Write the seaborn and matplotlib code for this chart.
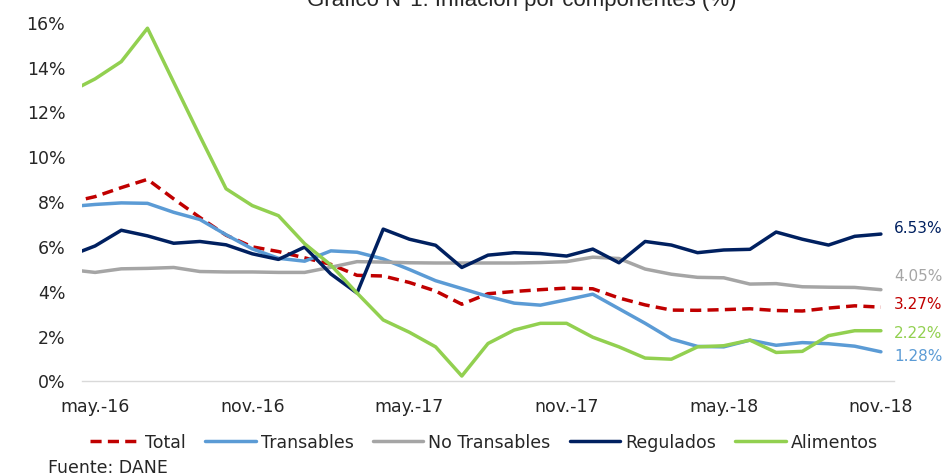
import numpy as np
import pandas as pd
import matplotlib
matplotlib.use("Agg")
import matplotlib.pyplot as plt
import seaborn as sns

# meses: abr.-16 ... nov.-18 (el primero queda recortado por el eje)
meses = pd.period_range("2016-04", "2018-11", freq="M")
etiquetas_x = ["may.-16", "nov.-16", "may.-17", "nov.-17", "may.-18", "nov.-18"]
pos_etiquetas = [0, 6, 12, 18, 24, 30]

total = [7.93, 8.20, 8.60, 8.97, 8.10, 7.27, 6.48, 5.96, 5.75,
         5.47, 5.18, 4.69, 4.66, 4.37, 3.99, 3.40, 3.87, 3.97, 4.05, 4.12, 4.09,
         3.68, 3.37, 3.14, 3.13, 3.16, 3.20, 3.12, 3.10, 3.23, 3.33, 3.27]
transables = [7.75, 7.85, 7.92, 7.90, 7.50, 7.18, 6.50, 5.87, 5.45,
              5.32, 5.78, 5.72, 5.42, 4.95, 4.45, 4.10, 3.75, 3.45, 3.36, 3.60, 3.85,
              3.20, 2.55, 1.85, 1.52, 1.50, 1.80, 1.57, 1.69, 1.64, 1.53, 1.28]
no_transables = [4.95, 4.82, 4.98, 5.00, 5.04, 4.86, 4.84, 4.84, 4.82,
                 4.82, 5.05, 5.30, 5.28, 5.25, 5.24, 5.24, 5.24, 5.24, 5.26, 5.30, 5.50,
                 5.44, 4.97, 4.74, 4.60, 4.58, 4.30, 4.32, 4.18, 4.16, 4.15, 4.05]
regulados = [5.55, 6.00, 6.70, 6.45, 6.12, 6.20, 6.05, 5.65, 5.40,
             5.95, 4.75, 3.90, 6.75, 6.30, 6.03, 5.04, 5.59, 5.70, 5.66, 5.55, 5.86,
             5.25, 6.20, 6.04, 5.70, 5.82, 5.85, 6.62, 6.30, 6.04, 6.43, 6.53]
alimentos = [12.85, 13.45, 14.22, 15.71, 13.30, 10.90, 8.55, 7.80, 7.35,
             6.10, 5.15, 3.90, 2.70, 2.15, 1.50, 0.20, 1.65, 2.25, 2.55, 2.55, 1.93,
             1.50, 1.00, 0.95, 1.50, 1.55, 1.80, 1.25, 1.30, 2.00, 2.22, 2.22]

series = ["Total", "Transables", "No Transables", "Regulados", "Alimentos"]
colores = {"Total": "#C00000", "Transables": "#5B9BD5", "No Transables": "#A5A5A5",
           "Regulados": "#002060", "Alimentos": "#92D050"}
estilos = {"Total": (3.2, 1.8), "Transables": "", "No Transables": "",
           "Regulados": "", "Alimentos": ""}

df = pd.DataFrame({"Total": total, "Transables": transables,
                   "No Transables": no_transables, "Regulados": regulados,
                   "Alimentos": alimentos})
df["idx"] = np.arange(len(meses)) - 1
largo = df.melt(id_vars="idx", var_name="serie", value_name="valor")

sns.set_style("white")
plt.rcParams["font.family"] = ["DejaVu Sans"]

fig = plt.figure(figsize=(9.47, 4.77), dpi=100)
ax = fig.add_axes([82 / 947, 1 - 381.5 / 477, 812 / 947, 358.8 / 477])

sns.lineplot(data=largo, x="idx", y="valor", hue="serie", style="serie",
             hue_order=series, style_order=series, palette=colores,
             dashes=estilos, linewidth=2.5, ax=ax, sort=False)
for ln in ax.get_lines():
    ln.set_solid_capstyle("round")
    ln.set_solid_joinstyle("round")
    ln.set_dash_capstyle("butt")

ax.set_xlim(-0.5, 30.5)
ax.set_ylim(0, 16)
ax.set_yticks(range(0, 17, 2))
ax.set_yticklabels([f"{v}%" for v in range(0, 17, 2)], fontsize=12.5)
ax.tick_params(axis="y", length=0, pad=12)

ax.set_xticks([p - 0.5 for p in pos_etiquetas])
ax.set_xticklabels([])
ax.tick_params(axis="x", which="major", length=5, color="#D9D9D9", width=1)
ax.set_xticks(pos_etiquetas, minor=True)
ax.set_xticklabels(etiquetas_x, minor=True, fontsize=12.5)
ax.tick_params(axis="x", which="minor", length=0, pad=12)

ax.set_xlabel("")
ax.set_ylabel("")
ax.grid(False)
sns.despine(ax=ax, left=True)
ax.spines["bottom"].set_color("#D9D9D9")
ax.spines["bottom"].set_linewidth(1)

# valores finales
desplaz = {"Regulados": 5, "No Transables": 10, "Total": 3,
           "Alimentos": -1, "Transables": -3}
for s in series:
    ultimo = df[s].iloc[-1]
    ax.annotate(f"{ultimo:.2f}%", xy=(df["idx"].iloc[-1], ultimo),
                xytext=(9.5, desplaz[s]), textcoords="offset points",
                color=colores[s], fontsize=11, va="center", ha="left",
                annotation_clip=False)

sns.move_legend(ax, "center", bbox_to_anchor=(0.511, 0.071),
                bbox_transform=fig.transFigure, ncol=5, frameon=False,
                title=None, fontsize=12.5, handlelength=2.9,
                handletextpad=0.3, columnspacing=1.1)

fig.text(0.5507, 1 - 6 / 477, "Gráfico N°1: Inflación por componentes (%)",
         ha="center", va="baseline", fontsize=16,
         family=["Liberation Sans", "DejaVu Sans"])
fig.text(48 / 947, 1 - 468 / 477, "Fuente: DANE", ha="left", va="center",
         fontsize=12.5)

fig.savefig("out.png", dpi=100)
